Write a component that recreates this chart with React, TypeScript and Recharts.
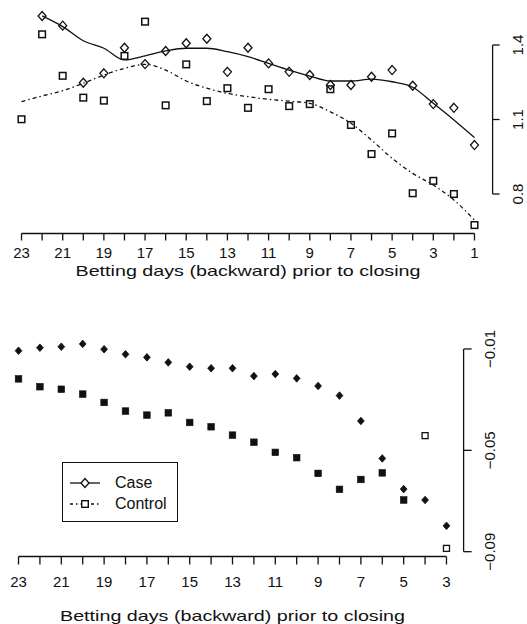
import React from "react";
import { ComposedChart, Line, XAxis, YAxis, ReferenceLine, Legend } from "recharts";

const days = [23, 22, 21, 20, 19, 18, 17, 16, 15, 14, 13, 12, 11, 10, 9, 8, 7, 6, 5, 4, 3, 2, 1];
const dayLabels = [23, 21, 19, 17, 15, 13, 11, 9, 7, 5, 3, 1];

// top panel (ratio), one value per betting day, day 23 -> day 1
const caseRatio = [
  null, 1.517, 1.478, 1.248, 1.286, 1.389, 1.323, 1.376, 1.407, 1.425, 1.292, 1.389,
  1.326, 1.292, 1.279, 1.239, 1.239, 1.272, 1.299, 1.236, 1.162, 1.147, 0.997,
];
const controlRatio = [
  1.101, 1.443, 1.276, 1.188, 1.176, 1.356, 1.494, 1.157, 1.322, 1.174, 1.226, 1.147,
  1.222, 1.154, 1.162, 1.222, 1.078, 0.961, 1.044, 0.803, 0.853, 0.8, 0.675,
];
const caseRatioSmooth = [
  null, 1.517, 1.474, 1.417, 1.387, 1.34, 1.356, 1.376, 1.387, 1.387, 1.373, 1.353,
  1.326, 1.299, 1.275, 1.255, 1.255, 1.263, 1.252, 1.23, 1.165, 1.098, 1.027,
];
const controlRatioSmooth = [
  1.172, 1.195, 1.216, 1.246, 1.279, 1.306, 1.322, 1.299, 1.255, 1.226, 1.205, 1.192,
  1.181, 1.174, 1.165, 1.131, 1.085, 1.017, 0.944, 0.883, 0.836, 0.776, 0.695,
];
const ratioTicks = [0.8, 1.1, 1.4];

// bottom panel (difference), day 23 -> day 3
const diffDays = [23, 22, 21, 20, 19, 18, 17, 16, 15, 14, 13, 12, 11, 10, 9, 8, 7, 6, 5, 4, 3];
const caseDiff = [
  -0.0107, -0.0095, -0.0091, -0.008, -0.0101, -0.0121, -0.0133, -0.0153, -0.017, -0.0176, -0.0176,
  -0.0207, -0.0199, -0.0216, -0.0246, -0.0284, -0.0384, -0.0532, -0.0653, -0.0696, -0.0798,
];
const controlDiff = [
  -0.0218, -0.0249, -0.0259, -0.0278, -0.0311, -0.0345, -0.0361, -0.0352, -0.039, -0.0407, -0.044,
  -0.0468, -0.0508, -0.0529, -0.0591, -0.0654, -0.0615, -0.0589, -0.0696, -0.0442, -0.0887,
];
const controlDiffOpenDays = [4, 3];
const diffTicks = [-0.09, -0.05, -0.01];

const FONT = '"Liberation Sans", Arial, Helvetica, sans-serif';
const INK = "#111";
const TITLE = "Betting days (backward) prior to closing";

const ratioRows = days.map((day, i) => ({
  day,
  caseRatio: caseRatio[i],
  controlRatio: controlRatio[i],
  caseSmooth: caseRatioSmooth[i],
  controlSmooth: controlRatioSmooth[i],
}));

const diffRows = diffDays.map((day, i) => ({
  day,
  caseDiff: caseDiff[i],
  controlDiff: controlDiff[i],
}));

const hasPoint = (p: any) => p.cx != null && p.cy != null && p.value != null;

function openDiamond(p: any) {
  if (!hasPoint(p)) return <g key={p.key} />;
  const { cx, cy } = p;
  return (
    <polygon
      key={p.key}
      points={`${cx},${cy - 4.5} ${cx + 4},${cy} ${cx},${cy + 4.5} ${cx - 4},${cy}`}
      fill="none"
      stroke={INK}
      strokeWidth={1.3}
    />
  );
}

function openSquare(p: any) {
  if (!hasPoint(p)) return <g key={p.key} />;
  return (
    <rect key={p.key} x={p.cx - 3.3} y={p.cy - 3.3} width={6.6} height={6.6}
      fill="none" stroke={INK} strokeWidth={1.5} />
  );
}

function solidDiamond(p: any) {
  if (!hasPoint(p)) return <g key={p.key} />;
  const { cx, cy } = p;
  return (
    <polygon
      key={p.key}
      points={`${cx},${cy - 3.8} ${cx + 3.4},${cy} ${cx},${cy + 3.8} ${cx - 3.4},${cy}`}
      fill={INK}
      stroke={INK}
      strokeWidth={0.8}
    />
  );
}

function diffSquare(p: any) {
  if (!hasPoint(p)) return <g key={p.key} />;
  const open = controlDiffOpenDays.includes(p.payload.day);
  return open ? (
    <rect key={p.key} x={p.cx - 3} y={p.cy - 3} width={6} height={6}
      fill="none" stroke={INK} strokeWidth={1.3} />
  ) : (
    <rect key={p.key} x={p.cx - 3.3} y={p.cy - 3.3} width={6.6} height={6.6}
      fill={INK} stroke={INK} strokeWidth={0.6} />
  );
}

function DayTick({ x, y, payload, shift }: any) {
  if (!dayLabels.includes(payload.value)) return <g />;
  return (
    <text x={x} y={y + shift} textAnchor="middle" fontSize={15} fontFamily={FONT} fill={INK}>
      {payload.value}
    </text>
  );
}

function SideTick({ y, payload, labelX }: any) {
  const text = String(payload.value).replace("-", "\u2212");
  return (
    <text
      transform={`translate(${labelX},${y}) rotate(-90)`}
      textAnchor="middle"
      fontSize={15}
      fontFamily={FONT}
      fill={INK}
    >
      {text}
    </text>
  );
}

function AxisTitle({ viewBox, drop }: any) {
  const vb = viewBox || { x: 0, y: 0, width: 0 };
  return (
    <text
      x={vb.x + vb.width / 2}
      y={vb.y + drop}
      textAnchor="middle"
      fontSize={15}
      fontFamily={FONT}
      fill={INK}
      textLength={345}
      lengthAdjust="spacingAndGlyphs"
    >
      {TITLE}
    </text>
  );
}

function KeyBox() {
  return (
    <div
      style={{
        position: "relative",
        width: 116,
        height: 60,
        boxSizing: "border-box",
        border: `1.3px solid ${INK}`,
        background: "#fff",
        fontFamily: FONT,
        fontSize: 16,
        lineHeight: "18px",
        color: INK,
      }}
    >
      <svg width={44} height={58} style={{ position: "absolute", left: 0, top: 0 }}>
        <line x1={7} x2={37} y1={20} y2={20} stroke={INK} strokeWidth={1.3} />
        <polygon points="22,15.5 26,20 22,24.5 18,20" fill="#fff" stroke={INK} strokeWidth={1.3} />
        <line x1={7} x2={37} y1={41} y2={41} stroke={INK} strokeWidth={1.3} strokeDasharray="3 3 1.5 3" />
        <rect x={18.7} y={37.7} width={6.6} height={6.6} fill="#fff" stroke={INK} strokeWidth={1.4} />
      </svg>
      <span style={{ position: "absolute", left: 52, top: 11 }}>Case</span>
      <span style={{ position: "absolute", left: 52, top: 32 }}>Control</span>
    </div>
  );
}

const axisStroke = { stroke: INK, strokeWidth: 1.3 };

export default function App() {
  return (
    <div style={{ position: "absolute", left: 0, top: 0, width: 527, height: 624, background: "#fff" }}>
      <div style={{ position: "absolute", left: 0, top: 0 }}>
        <ComposedChart
          width={527}
          height={290}
          data={ratioRows}
          margin={{ top: 7.5, right: 0, bottom: 16.5, left: 3.4 }}
        >
          <XAxis
            dataKey="day"
            type="number"
            domain={[0.12, 23.88]}
            reversed
            ticks={days}
            interval={0}
            axisLine={false}
            tickLine={axisStroke}
            tickSize={7}
            height={40}
            tick={(p: any) => <DayTick {...p} shift={15} />}
            label={<AxisTitle drop={42} />}
          />
          <YAxis
            orientation="right"
            type="number"
            domain={[0.641, 1.551]}
            ticks={ratioTicks}
            width={34.4}
            axisLine={false}
            tickLine={axisStroke}
            tickSize={7}
            tick={(p: any) => <SideTick {...p} labelX={523} />}
          />
          <ReferenceLine segment={[{ x: 23, y: 0.641 }, { x: 1, y: 0.641 }]} ifOverflow="visible" {...axisStroke} />
          <ReferenceLine segment={[{ x: 0.12, y: 0.8 }, { x: 0.12, y: 1.4 }]} ifOverflow="visible" {...axisStroke} />
          <Line
            dataKey="caseSmooth"
            type="monotone"
            stroke={INK}
            strokeWidth={1.3}
            dot={false}
            activeDot={false}
            isAnimationActive={false}
          />
          <Line
            dataKey="controlSmooth"
            type="monotone"
            stroke={INK}
            strokeWidth={1.3}
            strokeDasharray="4 3 1.5 3"
            dot={false}
            activeDot={false}
            isAnimationActive={false}
          />
          <Line dataKey="caseRatio" stroke="none" dot={openDiamond} activeDot={false} isAnimationActive={false} />
          <Line dataKey="controlRatio" stroke="none" dot={openSquare} activeDot={false} isAnimationActive={false} />
        </ComposedChart>
      </div>
      <div style={{ position: "absolute", left: 0, top: 290 }}>
        <ComposedChart
          width={527}
          height={334}
          data={diffRows}
          margin={{ top: 45.8, right: 0, bottom: 27.5, left: 1.4 }}
        >
          <XAxis
            dataKey="day"
            type="number"
            domain={[2.2, 23.8]}
            reversed
            ticks={diffDays}
            interval={0}
            axisLine={false}
            tickLine={axisStroke}
            tickSize={8}
            height={40}
            tick={(p: any) => <DayTick {...p} shift={20.6} />}
            label={<AxisTitle drop={64.5} />}
          />
          <YAxis
            orientation="right"
            type="number"
            domain={[-0.0919, -0.0048]}
            ticks={diffTicks}
            width={63.4}
            axisLine={false}
            tickLine={axisStroke}
            tickSize={8}
            tick={(p: any) => <SideTick {...p} labelX={495} />}
          />
          <ReferenceLine segment={[{ x: 23, y: -0.0919 }, { x: 3, y: -0.0919 }]} ifOverflow="visible" {...axisStroke} />
          <ReferenceLine segment={[{ x: 2.2, y: -0.09 }, { x: 2.2, y: -0.01 }]} ifOverflow="visible" {...axisStroke} />
          <Legend
            layout="vertical"
            align="center"
            verticalAlign="middle"
            content={() => <KeyBox />}
            wrapperStyle={{ left: 62, top: 172, width: 116, height: 60 }}
          />
          <Line dataKey="caseDiff" name="Case" stroke="none" dot={solidDiamond} activeDot={false} isAnimationActive={false} />
          <Line dataKey="controlDiff" name="Control" stroke="none" dot={diffSquare} activeDot={false} isAnimationActive={false} />
        </ComposedChart>
      </div>
    </div>
  );
}
